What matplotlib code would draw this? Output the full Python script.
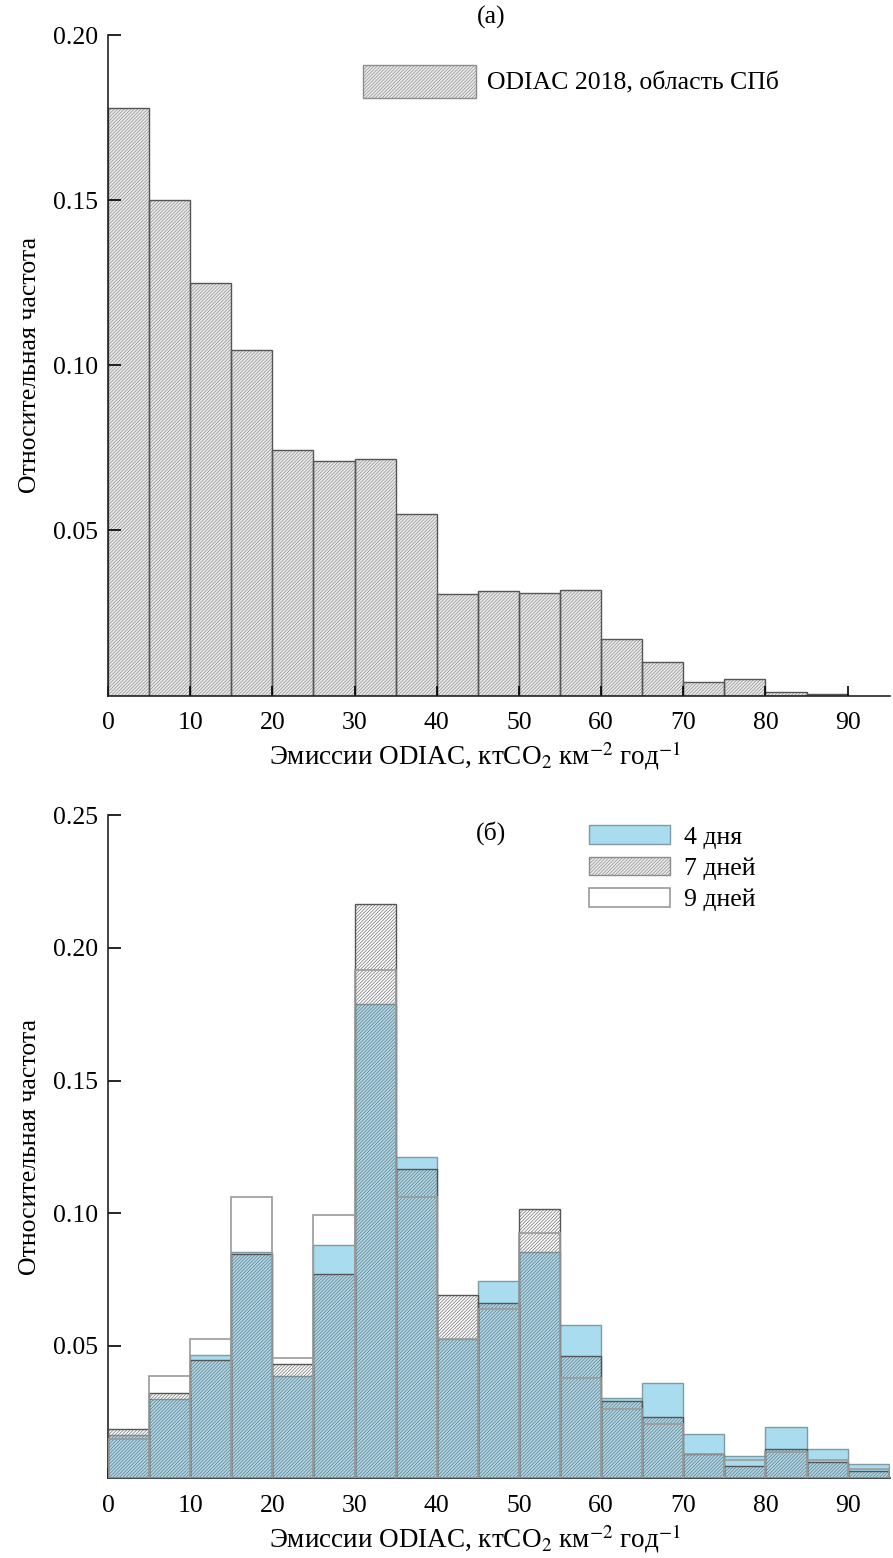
import numpy as np
import matplotlib
matplotlib.use("Agg")
import matplotlib.pyplot as plt

plt.rcParams['font.family'] = ['Liberation Serif', 'DejaVu Serif']
plt.rcParams['mathtext.fontset'] = 'stix'
plt.rcParams['hatch.linewidth'] = 0.5

# bin edges, width 5
edges_a = np.arange(0, 90, 5)
odiac_2018 = [0.178, 0.150, 0.125, 0.1045, 0.0744, 0.071, 0.0717, 0.055, 0.0307,
              0.0316, 0.031, 0.032, 0.0173, 0.0102, 0.0042, 0.0051, 0.0012, 0.0004]

edges_b = np.arange(0, 95, 5)
days_4 = [0.0162, 0.030, 0.0465, 0.0852, 0.0385, 0.0878, 0.1789, 0.121, 0.0523, 0.0743,
          0.0852, 0.0576, 0.0301, 0.0357, 0.0165, 0.0082, 0.0191, 0.011, 0.0054]
days_7 = [0.0185, 0.032, 0.0445, 0.0845, 0.0429, 0.0769, 0.2165, 0.1166, 0.069, 0.066,
          0.1014, 0.046, 0.029, 0.023, 0.0089, 0.0045, 0.0108, 0.006, 0.0028]
days_9 = [0.0146, 0.0386, 0.0523, 0.1062, 0.0454, 0.0992, 0.1918, 0.1062, 0.0525, 0.0638,
          0.0925, 0.0376, 0.026, 0.0203, 0.0089, 0.0067, 0.0099, 0.0068, 0.0034]

xlabel = "Эмиссии ODIAC, ктCO$_2$ км$^{-2}$ год$^{-1}$"
ylabel = "Относительная частота"
FS = 18.5
HATCH = '//////////'

fig = plt.figure(figsize=(8.93, 15.58), dpi=100)
ax1 = fig.add_axes([0.121, 0.5535, 0.876, 0.424])
ax2 = fig.add_axes([0.121, 0.0513, 0.876, 0.4253])


def style(ax, ymax, yticks):
    for s in ['top', 'right']:
        ax.spines[s].set_visible(False)
    for s in ['left', 'bottom']:
        ax.spines[s].set_linewidth(1.2)
        ax.spines[s].set_color('#222222')
    ax.set_xlim(0, 95.2)
    ax.set_ylim(0, ymax)
    ax.set_xticks(range(0, 91, 10))
    ax.set_yticks(yticks)
    ax.set_yticklabels(["%.2f" % t for t in yticks])
    ax.tick_params(axis='y', direction='in', length=9, width=1.2, labelsize=FS, pad=7)
    ax.tick_params(axis='x', direction='in', length=7, width=1.2, labelsize=FS, pad=12)
    ax.set_xlabel(xlabel, fontsize=19.5, labelpad=4, x=0.469)
    ax.set_ylabel(ylabel, fontsize=FS, labelpad=9)


# (a)
ax1.bar(edges_a, odiac_2018, width=5, align='edge', facecolor='#ececec',
        edgecolor='#8c8c8c', hatch=HATCH, linewidth=0,
        label="ODIAC 2018, область СПб")
ax1.bar(edges_a, odiac_2018, width=5, align='edge', facecolor='none',
        edgecolor='#555555', linewidth=1.0)
style(ax1, 0.20, [0.05, 0.10, 0.15, 0.20])
ax1.text(0.49, 1.026, "(a)", transform=ax1.transAxes, ha='center', va='center', fontsize=FS)
leg1 = ax1.legend(loc='upper left', bbox_to_anchor=(0.296, 0.99), frameon=False, fontsize=FS,
                  handlelength=4.4, handleheight=1.6, handletextpad=0.44)
leg1.get_patches()[0].set_edgecolor('#8c8c8c')
leg1.get_patches()[0].set_linewidth(1.0)

# (б)
ax2.bar(edges_b, days_4, width=5, align='edge', facecolor='#a9dcef',
        edgecolor='#7f9aa3', linewidth=1.0, label="4 дня", zorder=2)
ax2.bar(edges_b, days_7, width=5, align='edge', facecolor='none',
        edgecolor='#707070', hatch=HATCH, linewidth=0, label="7 дней", zorder=3)
ax2.bar(edges_b, days_7, width=5, align='edge', facecolor='none',
        edgecolor='#555555', linewidth=1.0, zorder=3)
ax2.bar(edges_b, days_9, width=5, align='edge', facecolor='none',
        edgecolor='#9a9a9a', linewidth=1.2, label="9 дней", zorder=4)
style(ax2, 0.25, [0.05, 0.10, 0.15, 0.20, 0.25])
ax2.text(0.49, 0.974, "(б)", transform=ax2.transAxes, ha='center', va='center', fontsize=FS)
h, l = ax2.get_legend_handles_labels()
leg = ax2.legend(h, l, loc='upper left', bbox_to_anchor=(0.585, 1.02), frameon=False,
                 fontsize=FS, handlelength=3.17, handleheight=0.75, handletextpad=0.52,
                 labelspacing=0.31)
p4, p7, p9 = leg.get_patches()
p7.set_facecolor('#ececec')
p7.set_edgecolor('#8c8c8c')
p7.set_linewidth(1.0)
p9.set_facecolor('white')

fig.savefig("out.png", dpi=100)
